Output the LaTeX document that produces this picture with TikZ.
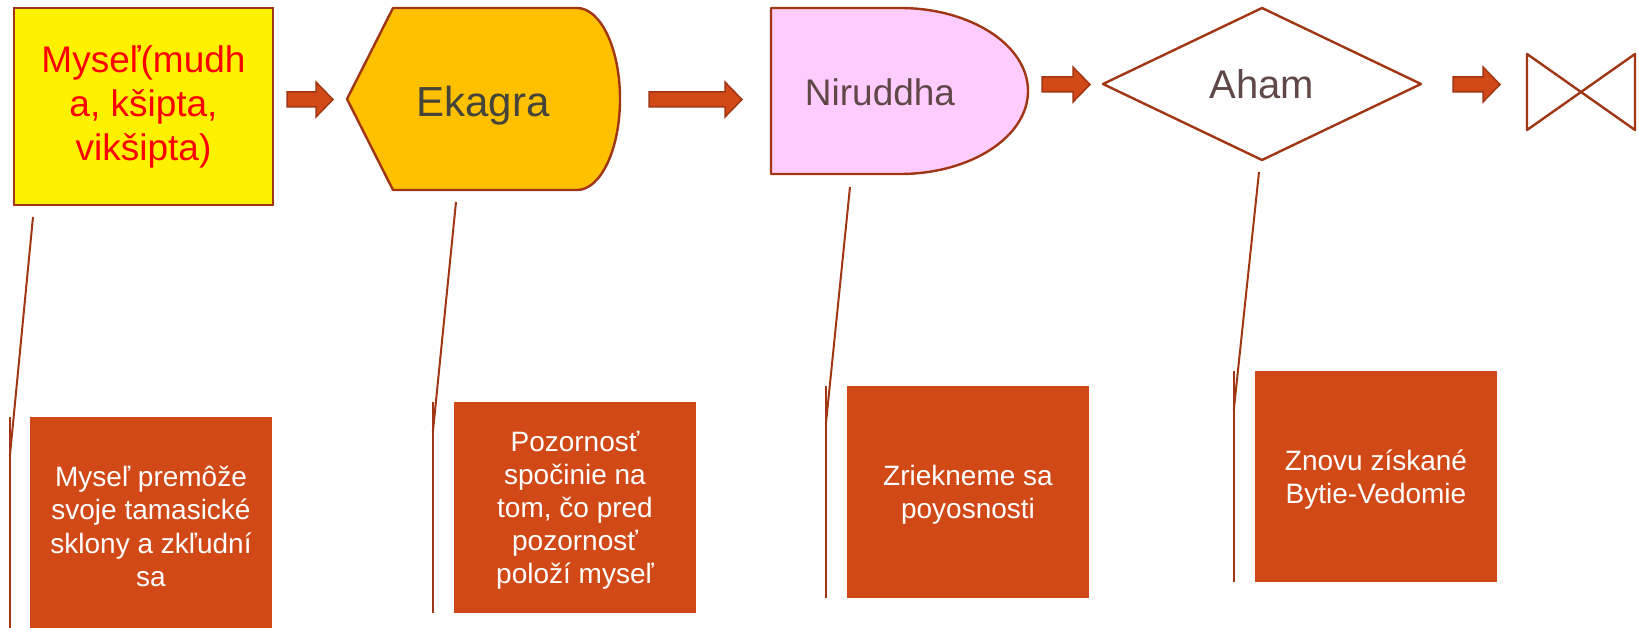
\documentclass[tikz,border=0pt]{standalone}
\usepackage{fontspec}
\setmainfont{Liberation Sans}
\definecolor{brn}{RGB}{160,54,20}
\definecolor{org}{RGB}{209,73,23}
\definecolor{gold}{RGB}{255,192,0}
\definecolor{pinkf}{RGB}{255,204,255}
\definecolor{ekt}{RGB}{68,68,58}
\definecolor{nit}{RGB}{96,72,72}
\newcommand{\blockarr}[4]{%
  \draw[blockarrow] (#1,#4-7.5) -- (#2,#4-7.5) -- (#2,#4-17.5) -- (#3,#4) -- (#2,#4+17.5) -- (#2,#4+7.5) -- (#1,#4+7.5) -- cycle;}
\begin{document}
\begin{tikzpicture}[x=1pt,y=-1pt,
  shapeline/.style={draw=brn,line width=2.4pt,line join=round},
  blockarrow/.style={fill=org,draw=brn,line width=1.5pt},
  infobox/.style={fill=org,draw=none,inner sep=0pt,minimum width=242pt},
  boxtext/.style={text=white,align=center,inner sep=0pt,font=\fontsize{28}{33.5}\selectfont},
  callout/.style={draw=brn,line width=2pt},
  bigtext/.style={anchor=base,inner sep=0pt}
]
\useasboundingbox (0,0) rectangle (1639,628);

% top row shapes
\node[draw=brn,line width=2.4pt,fill=yellow,minimum width=259pt,minimum height=197pt,
  inner sep=0pt,text=red,align=center,font=\fontsize{37}{44}\selectfont]
  (mysel) at (143.5,106.5) {Myseľ(mudh\\a, kšipta,\\vikšipta)};

\draw[shapeline,fill=gold] (347,99) -- (393,8) -- (577,8)
  .. controls (600.7,8) and (620,48.7) .. (620,99)
  .. controls (620,149.3) and (600.7,190) .. (577,190) -- (393,190) -- cycle;
\node[bigtext,text=ekt,font=\fontsize{42}{50}\selectfont] (ekagra) at (483,117) {Ekagra};

\draw[shapeline,fill=pinkf] (771,8) -- (900,8)
  .. controls (970.7,8) and (1028,45.2) .. (1028,91)
  .. controls (1028,136.8) and (970.7,174) .. (900,174) -- (771,174) -- cycle;
\node[bigtext,text=nit,font=\fontsize{37}{44}\selectfont] (niruddha) at (880,106) {Niruddha};

\draw[shapeline] (1103,84) -- (1262,8) -- (1421,84) -- (1262,160) -- cycle;
\node[bigtext,text=nit,font=\fontsize{40}{48}\selectfont] (aham) at (1262,99) {Aham};

\draw[shapeline] (1527,54) -- (1635,130) -- (1635,54) -- (1527,130) -- cycle;

% block arrows
\blockarr{287}{316}{333}{99.5}
\blockarr{649}{725}{742}{99.5}
\blockarr{1042}{1073}{1090}{84.5}
\blockarr{1453}{1483}{1500}{84.5}

% info boxes
\node[infobox,minimum height=213pt] (b1) at (151,523.5) {};
\node[infobox,minimum height=211pt] (b2) at (575,507.5) {};
\node[infobox,minimum height=212pt] (b3) at (968,492) {};
\node[infobox,minimum height=211pt] (b4) at (1376,476.5) {};
\node[boxtext] (t1) at ([yshift=-3pt]b1.center)
  {Myseľ premôže\\svoje tamasické\\sklony a zkľudní\\sa};
\node[boxtext,font=\fontsize{28}{33}\selectfont] (t2) at ([yshift=-3pt]b2.center)
  {Pozornosť\\spočinie na\\tom, čo pred\\pozornosť\\položí myseľ};
\node[boxtext] (t3) at ([yshift=-3pt]b3.center) {Zriekneme sa\\poyosnosti};
\node[boxtext] (t4) at ([yshift=-3pt]b4.center) {Znovu získané\\Bytie-Vedomie};

% callouts
\coordinate (k1) at (33,217);
\coordinate (k2) at (456,202);
\coordinate (k3) at (850,187);
\coordinate (k4) at (1259,172);

\draw[callout] (k1) -- ([xshift=-20pt,yshift=-40pt]b1.north west);
\draw[callout] ([xshift=-20pt]b1.north west) -- ([xshift=-20pt]b1.south west);
\draw[callout] (k2) -- ([xshift=-21pt,yshift=-31pt]b2.north west);
\draw[callout] ([xshift=-21pt]b2.north west) -- ([xshift=-21pt]b2.south west);
\draw[callout] (k3) -- ([xshift=-21pt,yshift=-39pt]b3.north west);
\draw[callout] ([xshift=-21pt]b3.north west) -- ([xshift=-21pt]b3.south west);
\draw[callout] (k4) -- ([xshift=-21pt,yshift=-39pt]b4.north west);
\draw[callout] ([xshift=-21pt]b4.north west) -- ([xshift=-21pt]b4.south west);
\end{tikzpicture}
\end{document}
